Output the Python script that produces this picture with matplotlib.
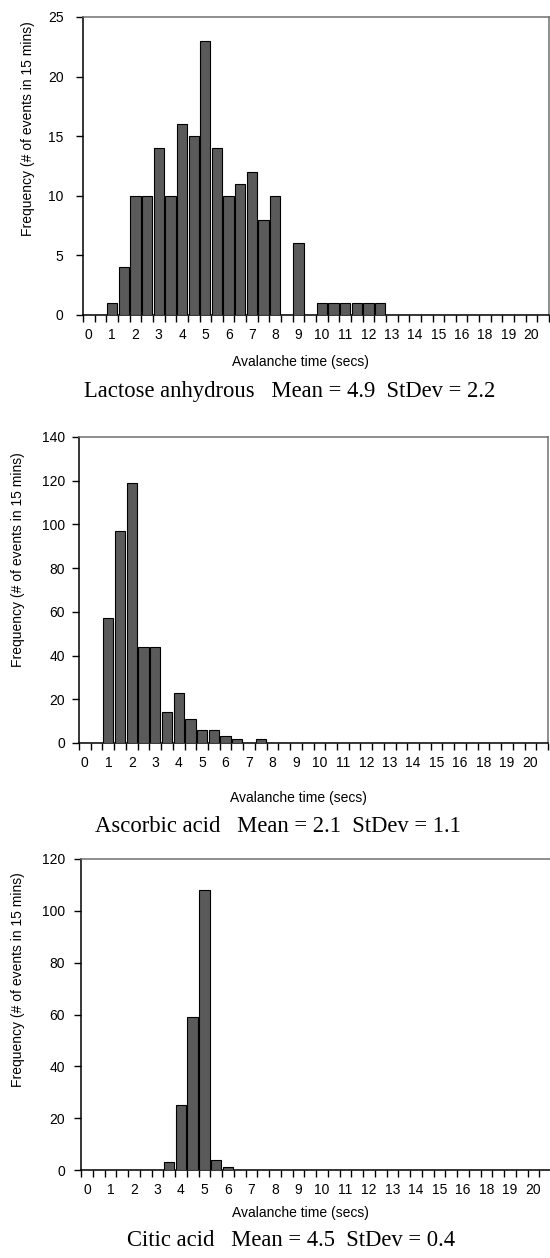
import numpy as np
import matplotlib
matplotlib.use("Agg")
import matplotlib.pyplot as plt

# 40 bins (0.5 s each), category axis like the original spreadsheet chart
tick_labels = ["0", "1", "2", "3", "4", "5", "6", "7", "8", "9", "10", "11", "12",
               "13", "14", "15", "16", "18", "19", "20"]

lactose = [0, 0, 1, 4, 10, 10, 14, 10, 16, 15, 23, 14, 10, 11, 12, 8, 10, 0, 6, 0,
           1, 1, 1, 1, 1, 1, 0, 0, 0, 0, 0, 0, 0, 0, 0, 0, 0, 0, 0, 0]
ascorbic = [0, 0, 57, 97, 119, 44, 44, 14, 23, 11, 6, 6, 3, 2, 0, 2, 0, 0, 0, 0,
            0, 0, 0, 0, 0, 0, 0, 0, 0, 0, 0, 0, 0, 0, 0, 0, 0, 0, 0, 0]
citric = [0, 0, 0, 0, 0, 0, 0, 3, 25, 59, 108, 4, 1, 0, 0, 0, 0, 0, 0, 0,
          0, 0, 0, 0, 0, 0, 0, 0, 0, 0, 0, 0, 0, 0, 0, 0, 0, 0, 0, 0]

captions = ["Lactose anhydrous   Mean = 4.9  StDev = 2.2",
            "Ascorbic acid   Mean = 2.1  StDev = 1.1",
            "Citic acid   Mean = 4.5  StDev = 0.4"]
ylims = [(25, 5), (140, 20), (120, 20)]

W, H = 550, 1258
fig = plt.figure(figsize=(W / 100, H / 100), dpi=100)
plt.rcParams["font.family"] = ["Liberation Sans", "DejaVu Sans"]

# pixel boxes: left, right, top, bottom
boxes = [(83, 549, 17, 315), (79, 548, 437, 743), (81, 551, 859, 1170)]
ylab_pos = [(28, 129), (18, 560), (18, 980)]
xlab_pos = [(300, 362), (298, 798), (300, 1213)]
cap_pos = [(290, 392), (278, 826), (291, 1241)]
ypads = [9, 5, 6.5]

for i, data in enumerate([lactose, ascorbic, citric]):
    l, r, t, b = boxes[i]
    ax = fig.add_axes([l / W, 1 - b / H, (r - l) / W, (b - t) / H])
    n = len(data)
    x = np.arange(n) + 0.5
    ax.bar(x, data, width=0.88, color="#5a5a5a", edgecolor="black", linewidth=0.8, zorder=3)
    ax.set_xlim(0, n)
    ymax, step = ylims[i]
    ax.set_ylim(0, ymax)
    ax.set_yticks(np.arange(0, ymax + 1, step))
    ax.set_xticks(np.arange(0, n + 1))
    ax.set_xticklabels([])
    ax.set_xticks(np.arange(0, n, 2) + 0.5, minor=True)
    ax.set_xticklabels(tick_labels, minor=True)
    ax.tick_params(axis="x", which="major", direction="out", length=5, width=1, color="black")
    ax.tick_params(axis="x", which="minor", length=0, pad=9.5, labelsize=10)
    ax.tick_params(axis="y", direction="out", length=5, width=1, pad=ypads[i], labelsize=10)
    for s in ["left", "bottom"]:
        ax.spines[s].set_color("black")
        ax.spines[s].set_linewidth(1.1)
    for s in ["top", "right"]:
        ax.spines[s].set_color("#707070")
        ax.spines[s].set_linewidth(1.1)

    fig.text(ylab_pos[i][0] / W, 1 - ylab_pos[i][1] / H, "Frequency (# of events in 15 mins)",
             rotation=90, ha="center", va="center", fontsize=10)
    fig.text(xlab_pos[i][0] / W, 1 - xlab_pos[i][1] / H, "Avalanche time (secs)",
             ha="center", va="center", fontsize=10)
    fig.text(cap_pos[i][0] / W, 1 - cap_pos[i][1] / H, captions[i],
             ha="center", va="center", fontsize=16.3, family=["Liberation Serif", "DejaVu Serif"])

fig.savefig("out.png", dpi=100)
